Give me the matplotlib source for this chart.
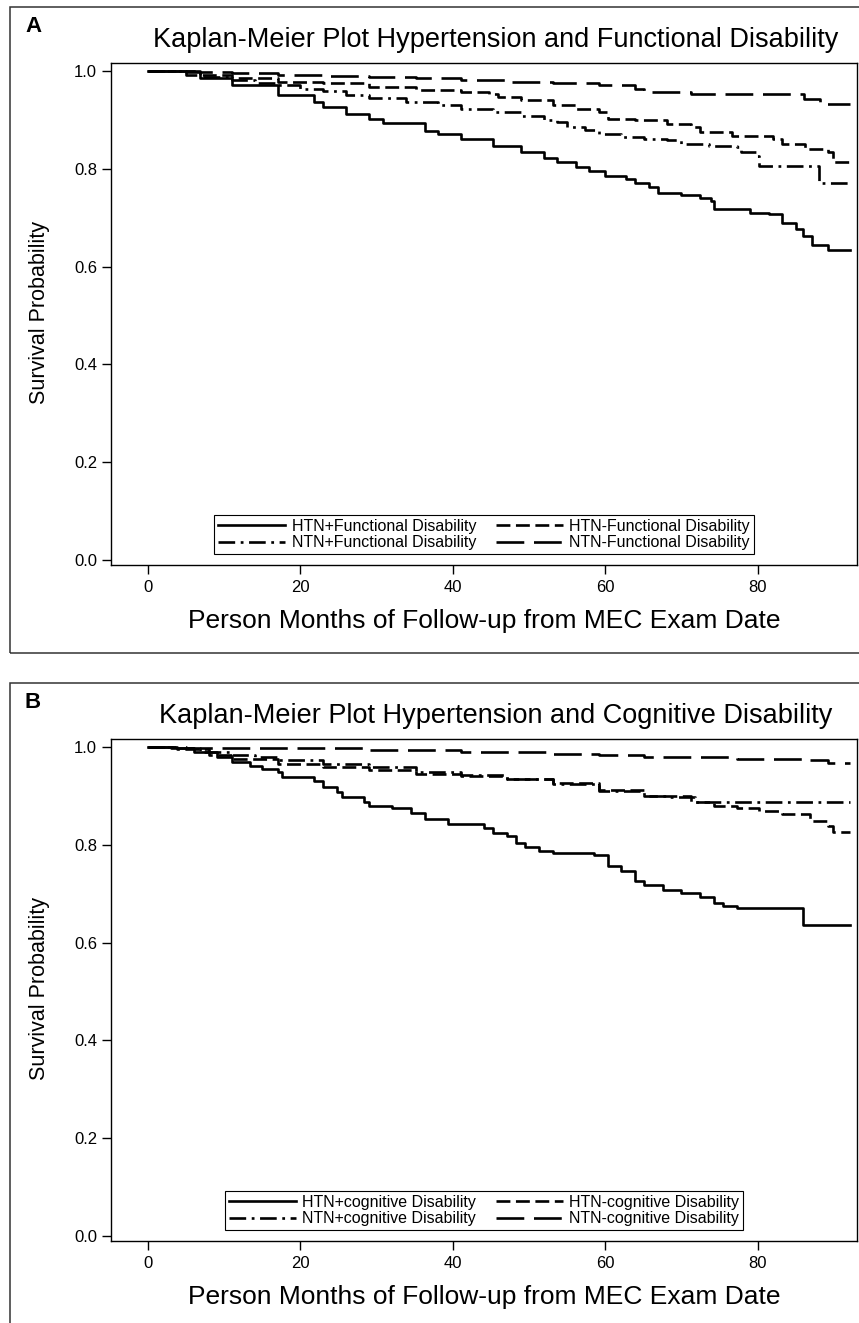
import matplotlib
matplotlib.use('Agg')
import matplotlib.pyplot as plt
from matplotlib.patches import Rectangle

# ---- panel A: hypertension x functional disability ----
a_htn_pos_t = [0, 6.8, 11.0, 17.0, 21.8, 23.0, 26.0, 29.0, 30.8, 36.3, 38.1, 41.1, 45.3, 48.9, 51.9, 53.7,
               56.1, 57.9, 60.0, 62.7, 63.9, 65.7, 66.9, 69.9, 72.4, 73.9, 74.2, 79.0, 81.4, 83.2, 85.0,
               85.9, 87.1, 89.2, 92.1]
a_htn_pos_s = [1.0, 0.985, 0.971, 0.951, 0.937, 0.926, 0.913, 0.902, 0.893, 0.878, 0.871, 0.861, 0.847, 0.834,
               0.823, 0.813, 0.803, 0.796, 0.786, 0.779, 0.772, 0.762, 0.751, 0.746, 0.741, 0.734, 0.717, 0.710,
               0.707, 0.689, 0.676, 0.662, 0.645, 0.634, 0.634]
a_htn_neg_t = [0, 5.0, 11.0, 17.0, 23.0, 29.0, 35.1, 41.1, 44.7, 45.9, 48.9, 53.1, 56.1, 59.1, 60.3, 63.9,
               68.1, 71.2, 72.4, 76.6, 82.0, 83.2, 86.2, 89.2, 89.8, 92.1]
a_htn_neg_s = [1.0, 0.992, 0.985, 0.978, 0.975, 0.968, 0.961, 0.957, 0.954, 0.947, 0.940, 0.930, 0.923, 0.916,
               0.902, 0.899, 0.892, 0.885, 0.875, 0.868, 0.861, 0.851, 0.841, 0.834, 0.813, 0.813]
a_ntn_pos_t = [0, 6.8, 11.0, 14.0, 17.0, 20.0, 23.0, 26.0, 29.0, 33.9, 38.1, 41.1, 45.3, 48.9, 51.9, 53.7,
               54.9, 57.3, 59.1, 62.1, 65.1, 68.1, 69.9, 73.6, 77.2, 77.8, 79.9, 80.2, 88.0, 92.1]
a_ntn_pos_s = [1.0, 0.988, 0.981, 0.976, 0.971, 0.964, 0.959, 0.951, 0.944, 0.937, 0.930, 0.923, 0.916, 0.909,
               0.900, 0.896, 0.885, 0.880, 0.871, 0.866, 0.861, 0.858, 0.851, 0.847, 0.844, 0.834, 0.827, 0.806,
               0.772, 0.772]
a_ntn_neg_t = [0, 5.0, 11.0, 17.0, 23.0, 29.0, 35.1, 41.1, 47.1, 53.1, 59.1, 63.9, 65.1, 71.2, 86.0, 88.1, 92.1]
a_ntn_neg_s = [1.0, 0.997, 0.995, 0.992, 0.990, 0.987, 0.985, 0.981, 0.978, 0.975, 0.971, 0.964, 0.957, 0.954,
               0.942, 0.933, 0.933]

# ---- panel B: hypertension x cognitive disability ----
b_htn_pos_t = [0, 3.0, 6.0, 9.0, 11.0, 13.4, 15.0, 17.0, 17.6, 21.8, 23.0, 24.8, 25.4, 28.4, 29.0, 32.0,
               34.5, 36.3, 39.3, 44.1, 45.3, 47.1, 48.3, 49.5, 51.3, 53.1, 58.5, 60.3, 62.1, 63.9, 65.1,
               67.5, 69.9, 72.4, 74.2, 75.4, 77.2, 85.9, 92.1]
b_htn_pos_s = [1.0, 0.997, 0.990, 0.980, 0.969, 0.962, 0.955, 0.948, 0.938, 0.931, 0.918, 0.907, 0.897, 0.887,
               0.880, 0.876, 0.866, 0.852, 0.842, 0.835, 0.825, 0.818, 0.804, 0.795, 0.788, 0.784, 0.779, 0.756,
               0.746, 0.725, 0.718, 0.708, 0.701, 0.694, 0.680, 0.674, 0.670, 0.636, 0.636]
b_htn_neg_t = [0, 3.8, 8.0, 11.0, 17.0, 23.0, 29.0, 35.1, 41.1, 47.1, 53.1, 59.1, 65.1, 71.2, 74.2, 77.2,
               80.2, 83.2, 86.8, 89.2, 89.8, 92.1]
b_htn_neg_s = [1.0, 0.995, 0.983, 0.976, 0.966, 0.959, 0.952, 0.945, 0.940, 0.935, 0.926, 0.912, 0.900, 0.887,
               0.880, 0.876, 0.869, 0.863, 0.849, 0.838, 0.827, 0.827]
b_ntn_pos_t = [0, 3.8, 6.8, 11.0, 14.0, 17.0, 23.0, 29.0, 35.1, 41.1, 47.1, 53.1, 59.1, 65.1, 68.1, 71.8, 92.1]
b_ntn_pos_s = [1.0, 0.997, 0.990, 0.983, 0.979, 0.973, 0.966, 0.959, 0.948, 0.942, 0.935, 0.924, 0.911, 0.900,
               0.897, 0.888, 0.888]
b_ntn_neg_t = [0, 5.0, 17.0, 29.0, 41.1, 53.1, 59.1, 65.1, 77.2, 86.2, 89.2, 92.1]
b_ntn_neg_s = [1.0, 0.999, 0.997, 0.993, 0.990, 0.986, 0.983, 0.979, 0.976, 0.973, 0.968, 0.968]

a_labels = ['HTN+Functional Disability', 'HTN-Functional Disability',
            'NTN+Functional Disability', 'NTN-Functional Disability']
b_labels = ['HTN+cognitive Disability', 'HTN-cognitive Disability',
            'NTN+cognitive Disability', 'NTN-cognitive Disability']
a_title = 'Kaplan-Meier Plot Hypertension and Functional Disability'
b_title = 'Kaplan-Meier Plot Hypertension and Cognitive Disability'
x_label = 'Person Months of Follow-up from MEC Exam Date'
y_label = 'Survival Probability'
x_ticks = [0, 20, 40, 60, 80]
y_ticks = [0.0, 0.2, 0.4, 0.6, 0.8, 1.0]

plt.rcParams['font.family'] = ['Liberation Sans', 'DejaVu Sans']
plt.rcParams['lines.scale_dashes'] = False

W, H = 859.0, 1323.0
fig = plt.figure(figsize=(W / 100, H / 100), dpi=100)

# solid, short dash, dash-dot, long dash
line_styles = ['-', (0, (10, 4)), (0, (12, 4, 2, 4)), (0, (20, 7))]


def fx(px):
    return px / W


def fy(py):
    return 1 - py / H


def draw_panel(dy, letter, title, curves, labels):
    # outer frame around the panel
    fig.patches.append(Rectangle((fx(10), fy(653 + dy)), fx(870), 646 / H, transform=fig.transFigure,
                                 fill=False, edgecolor='#333333', linewidth=1.1))
    ax = fig.add_axes([fx(111), fy(565 + dy), fx(857 - 111), (565 - 63) / H])
    handles = []
    for (t, s), ls in zip(curves, line_styles):
        h, = ax.step(t, s, where='post', color='black', linewidth=1.9, linestyle=ls)
        handles.append(h)
    ax.set_xlim(-4.85, 93.0)
    ax.set_ylim(-0.0102, 1.0164)
    ax.set_xticks(x_ticks)
    ax.set_yticks(y_ticks)
    ax.set_yticklabels(['%.1f' % v for v in y_ticks])
    ax.tick_params(labelsize=12, length=6.5, width=1, direction='out')
    ax.tick_params(axis='y', pad=3.5)
    ax.tick_params(axis='x', pad=4.5)
    for sp in ax.spines.values():
        sp.set_linewidth(1.0)
    order = [0, 2, 1, 3]
    leg = ax.legend([handles[i] for i in order], [labels[i] for i in order], ncol=2, loc='lower center',
                    bbox_to_anchor=(0.5, 0.012), fontsize=11.5, fancybox=False, edgecolor='black',
                    framealpha=1, handlelength=4.2, handletextpad=0.4, columnspacing=1.2,
                    borderpad=0.25, labelspacing=0.1, borderaxespad=0.3)
    leg.get_frame().set_linewidth(0.8)

    fig.text(fx(33), fy(27 + dy), letter, fontsize=16, fontweight='bold', ha='center', va='center')
    fig.text(fx(496), fy(40 + dy), title, fontsize=19.5, ha='center', va='center')
    fig.text(fx(484), fy(621 + dy), x_label, fontsize=19, ha='center', va='center')
    fig.text(fx(40), fy(312 + dy), y_label, fontsize=15.5, ha='center', va='center', rotation=90)
    return ax


draw_panel(0, 'A', a_title,
           [(a_htn_pos_t, a_htn_pos_s), (a_htn_neg_t, a_htn_neg_s),
            (a_ntn_pos_t, a_ntn_pos_s), (a_ntn_neg_t, a_ntn_neg_s)], a_labels)
draw_panel(676, 'B', b_title,
           [(b_htn_pos_t, b_htn_pos_s), (b_htn_neg_t, b_htn_neg_s),
            (b_ntn_pos_t, b_ntn_pos_s), (b_ntn_neg_t, b_ntn_neg_s)], b_labels)

fig.savefig('out.png', dpi=100)
